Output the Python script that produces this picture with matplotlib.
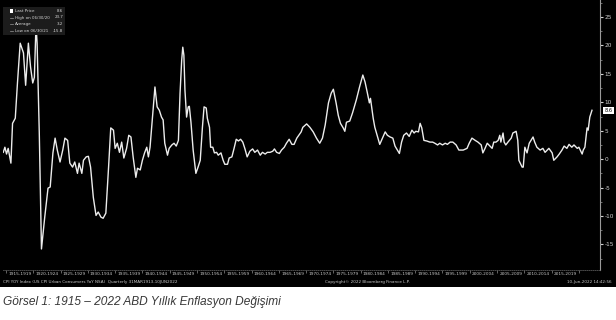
import matplotlib
matplotlib.use("Agg")
import matplotlib.pyplot as plt
from matplotlib.patches import Rectangle

years = [1914.5, 1914.8, 1915.1, 1915.4, 1915.9, 1916.2, 1916.7, 1917.1, 1917.6, 1918.2,
         1918.6, 1919.1, 1919.5, 1919.9, 1920.2, 1920.5, 1920.7, 1921.1, 1921.5, 1922.1,
         1922.7, 1923.1, 1923.6, 1924.0, 1924.4, 1924.9, 1925.4, 1925.8, 1926.3, 1926.7,
         1927.2, 1927.6, 1928.1, 1928.4, 1928.9, 1929.2, 1929.7, 1930.1, 1930.5, 1931.0,
         1931.5, 1931.9, 1932.4, 1932.8, 1933.3, 1933.8, 1934.2, 1934.7, 1935.0, 1935.4,
         1935.8, 1936.2, 1936.6, 1937.1, 1937.5, 1937.9, 1938.3, 1938.8, 1939.1, 1939.6,
         1940.0, 1940.4, 1940.8, 1941.1, 1941.4, 1941.9, 1942.3, 1942.7, 1943.1, 1943.5,
         1943.8, 1944.1, 1944.6, 1944.9, 1945.4, 1945.8, 1946.2, 1946.6, 1946.9, 1947.2,
         1947.4, 1947.6, 1947.8, 1948.1, 1948.4, 1948.6, 1948.9, 1949.3, 1949.8, 1950.2,
         1950.6, 1951.0, 1951.3, 1951.7, 1951.9, 1952.3, 1952.5, 1952.9, 1953.2, 1953.6,
         1953.9, 1954.4, 1954.8, 1955.1, 1955.6, 1955.9, 1956.4, 1956.8, 1957.2, 1957.6,
         1958.0, 1958.4, 1958.8, 1959.2, 1959.7, 1960.2, 1960.6, 1961.1, 1961.6, 1962.0,
         1962.5, 1962.9, 1963.4, 1963.9, 1964.2, 1964.6, 1965.1, 1965.5, 1966.0, 1966.4,
         1966.9, 1967.4, 1967.8, 1968.3, 1968.8, 1969.1, 1969.4, 1970.1, 1970.7, 1971.3,
         1971.9, 1972.5, 1973.0, 1973.5, 1974.1, 1974.6, 1975.0, 1975.5, 1975.9, 1976.3,
         1976.8, 1977.1, 1977.4, 1978.0, 1978.5, 1979.2, 1979.8, 1980.4, 1980.8, 1981.2,
         1981.6, 1981.8, 1982.3, 1982.6, 1983.1, 1983.5, 1984.0, 1984.5, 1984.9, 1985.4,
         1985.9, 1986.3, 1986.6, 1987.1, 1987.5, 1987.9, 1988.4, 1988.9, 1989.4, 1989.8,
         1990.1, 1990.6, 1990.9, 1991.2, 1991.6, 1992.1, 1992.7, 1993.2, 1993.6, 1994.1,
         1994.5, 1995.0, 1995.5, 1995.9, 1996.4, 1996.9, 1997.5, 1998.0, 1998.8, 1999.5,
         1999.9, 2000.4, 2001.0, 2001.5, 2002.1, 2002.4, 2002.8, 2003.2, 2003.5, 2004.1,
         2004.4, 2004.8, 2005.2, 2005.5, 2005.7, 2006.1, 2006.3, 2006.6, 2007.0, 2007.6,
         2007.9, 2008.5, 2008.8, 2009.0, 2009.6, 2009.8, 2010.1, 2010.5, 2010.9, 2011.6,
         2011.9, 2012.3, 2012.9, 2013.4, 2013.8, 2014.2, 2014.5, 2015.1, 2015.4, 2016.0,
         2016.4, 2016.9, 2017.3, 2017.8, 2018.2, 2018.7, 2019.1, 2019.7, 2020.0, 2020.6,
         2020.8, 2021.1, 2021.5, 2021.7, 2022.0, 2022.4]
cpi_yoy = [1.2, 2.1, 0.9, 1.9, -0.7, 6.3, 7.2, 13.4, 20.4, 18.7,
           13.0, 20.4, 16.2, 13.4, 14.4, 23.7, 20.4, 4.6, -15.8, -10.2,
           -5.1, -4.9, 1.1, 3.7, 1.6, -0.5, 1.6, 3.7, 3.3, -0.7,
           -1.4, -0.5, -2.5, -0.7, -2.5, -0.2, 0.4, 0.5, -1.4, -6.7,
           -9.9, -9.3, -10.2, -10.4, -9.5, -1.4, 5.5, 5.1, 1.9, 2.8,
           1.2, 3.0, 0.2, 1.9, 4.2, 3.9, 0.4, -3.2, -1.6, -1.9,
           -0.2, 1.1, 2.1, 0.4, 2.1, 8.1, 12.7, 9.2, 8.6, 7.4,
           6.9, 2.8, 0.7, 1.9, 2.5, 2.8, 2.3, 3.3, 11.6, 17.4,
           19.7, 18.3, 12.1, 7.4, 9.2, 9.3, 6.5, 1.6, -2.5, -1.4,
           -0.2, 5.6, 9.2, 9.0, 7.2, 5.6, 2.1, 2.1, 1.1, 1.2,
           0.7, 1.1, -0.2, -0.9, -0.9, 0.2, 0.4, 1.9, 3.5, 3.2,
           3.5, 3.0, 1.8, 0.4, 1.4, 1.8, 1.2, 1.6, 0.7, 1.2,
           0.9, 1.2, 1.2, 1.4, 1.8, 1.2, 1.0, 1.6, 2.1, 2.8,
           3.5, 2.6, 2.6, 3.7, 4.4, 4.8, 5.6, 6.2, 5.6, 4.8,
           3.7, 2.8, 3.7, 6.0, 9.9, 11.6, 12.3, 9.9, 7.7, 6.3,
           5.5, 4.9, 6.5, 6.7, 8.1, 10.4, 12.7, 14.8, 13.6, 11.8,
           9.9, 10.7, 7.2, 5.6, 3.9, 2.6, 3.7, 4.8, 4.2, 3.9,
           3.7, 2.3, 1.8, 1.0, 3.0, 4.2, 4.6, 4.0, 5.1, 4.6,
           4.9, 4.8, 6.3, 5.5, 3.3, 3.2, 3.0, 3.0, 2.8, 2.5,
           2.8, 2.5, 2.8, 2.6, 3.0, 3.0, 2.5, 1.6, 1.6, 1.9,
           2.8, 3.7, 3.3, 3.0, 2.5, 1.1, 1.9, 2.8, 2.5, 1.9,
           3.0, 3.0, 3.3, 4.2, 3.0, 4.6, 3.0, 2.5, 3.0, 3.7,
           4.6, 4.9, 3.3, -0.2, -1.4, -1.4, 2.1, 1.1, 2.8, 3.9,
           3.0, 2.1, 1.6, 1.9, 1.2, 1.6, 1.9, 1.1, -0.2, 0.4,
           0.9, 1.6, 2.3, 1.9, 2.6, 2.1, 2.5, 1.9, 2.1, 0.9,
           1.6, 2.1, 5.5, 5.1, 7.4, 8.6]

bin_starts = list(range(1915, 2020, 5))
bin_labels = [f"{y}-{y + 4}" for y in bin_starts]
y_ticks = [-15, -10, -5, 0, 5, 10, 15, 20, 25]
legend_rows = [("Last Price", "8.6"), ("High on 06/30/20", "23.7"),
               ("Average", "3.2"), ("Low on 06/30/21", "-15.8")]
last_price = 8.6

W, H = 616, 320
fig = plt.figure(figsize=(W / 100, H / 100), dpi=100)
fig.patch.set_facecolor("white")

# black Bloomberg panel
fig.add_artist(Rectangle((0, (H - 287) / H), 1, 287 / H, transform=fig.transFigure,
                         facecolor="black", edgecolor="none", zorder=0))

ax = fig.add_axes([3 / W, (H - 270) / H, 597 / W, 270 / H])
ax.set_facecolor("black")
ax.plot(years, cpi_yoy, color="#ececec", lw=1.0, solid_joinstyle="round", zorder=3)
ax.set_xlim(1914.45, 2023.87)
ax.set_ylim(-19.5, 28.0)

for s in ["top", "left"]:
    ax.spines[s].set_visible(False)
ax.spines["right"].set_color("#9a9a9a")
ax.spines["right"].set_linewidth(0.8)
ax.spines["bottom"].set_color("#555555")
ax.spines["bottom"].set_linestyle((0, (1, 1.5)))
ax.spines["bottom"].set_linewidth(0.6)

ax.yaxis.tick_right()
ax.set_yticks(y_ticks)
ax.set_yticklabels([str(v) for v in y_ticks])
ax.tick_params(axis="y", which="major", colors="#d0d0d0", labelsize=4.2, length=2,
               width=0.8, pad=1.5)
ax.set_yticks([v + 2.5 for v in y_ticks[:-1]] + [-17.5, 27.5], minor=True)
ax.tick_params(axis="y", which="minor", colors="#9a9a9a", length=1.2, width=0.5)

ax.set_xticks([y + 2.5 for y in bin_starts])
ax.set_xticklabels(bin_labels)
ax.tick_params(axis="x", which="major", length=0, colors="#c8c8c8", labelsize=3.1, pad=1.5)
ax.set_xticks(bin_starts + [2020], minor=True)
ax.tick_params(axis="x", which="minor", length=2.5, width=0.5, color="#8a8a8a",
               direction="out")

# last price label
ax.annotate(f"{last_price}", xy=(1.0, last_price), xycoords=("axes fraction", "data"),
            xytext=(6, 0), textcoords="offset points", fontsize=3.6, color="black",
            ha="center", va="center",
            bbox=dict(boxstyle="square,pad=0.25", fc="white", ec="none"), zorder=5)

# legend box
fig.add_artist(Rectangle((3 / W, (H - 35) / H), 62 / W, 28 / H, transform=fig.transFigure,
                         facecolor="#1c1c1c", edgecolor="none", zorder=4))
row_y = [11, 17.5, 24, 30.5]
for (lab, val), yy in zip(legend_rows, row_y):
    fig.text(15 / W, (H - yy) / H, lab, fontsize=2.9, color="#d8d8d8", va="center", zorder=5)
    fig.text(63 / W, (H - yy) / H, val, fontsize=2.9, color="#d8d8d8", va="center",
             ha="right", zorder=5)
fig.add_artist(Rectangle((9.5 / W, (H - 12.8) / H), 3.6 / W, 3.6 / H,
                         transform=fig.transFigure, facecolor="white", edgecolor="none",
                         zorder=5))
for yy in row_y[1:]:
    fig.add_artist(plt.Line2D([10 / W, 12.5 / W], [(H - yy) / H] * 2,
                              transform=fig.transFigure, color="#9a9a9a", lw=0.5, zorder=5))

# footer
fy = (H - 282) / H
fig.text(3 / W, fy, "CPI YOY Index (US CPI Urban Consumers YoY NSA)  Quarterly 31MAR1913-10JUN2022",
         fontsize=3.0, color="#c8c8c8", va="center")
fig.text(367 / W, fy, "Copyright\u00a9 2022 Bloomberg Finance L.P.", fontsize=3.0,
         color="#c8c8c8", va="center", ha="center")
fig.text(612 / W, fy, "10-Jun-2022 14:42:56", fontsize=3.0, color="#c8c8c8",
         va="center", ha="right")

# caption
fig.text(3 / W, (H - 302) / H, "Görsel 1: 1915 – 2022 ABD Yıllık Enflasyon Değişimi",
         fontsize=8.6, style="italic", color="#383838", va="center",
         family=["Liberation Sans", "DejaVu Sans"])

fig.savefig("out.png", dpi=100, facecolor=fig.get_facecolor())
